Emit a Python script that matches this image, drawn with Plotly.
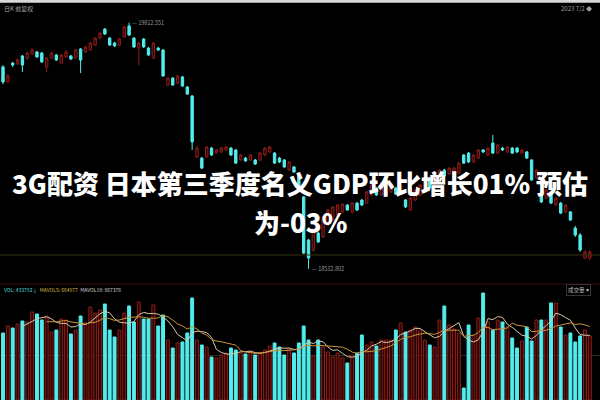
import plotly.graph_objects as go
import pandas as pd

# ---- data ----
opens = [19582,19504,19602,19597,19639,19628,19649,19660,19654,19582,
         19628,19644,19602,19634,19639,19628,19675,19660,19670,19696,
         19732,19779,19732,19706,19696,19738,19795,19732,19680,19727,
         19680,19628,19680,19670,19488,19524,19498,19530,19478,19431,
         19114,19108,19114,19160,19134,19140,19150,19160,19150,19098,
         19108,19098,19098,19098,19124,19140,19134,19108,19098,19046,
         19062,19020,18906,18682,18630,18718,18698,18760,18786,18812,
         18828,18864,18828,18874,18890,18874,18916,18952,18916,18916,
         18932,18952,18926,18890,18838,18890,18916,18942,19004,18968,
         18994,19046,19025,19020,19030,19124,19134,19088,19108,19150,
         19124,19186,19134,19160,19140,19160,19160,19134,19140,19098,
         19004,18916,18900,18932,18864,18874,18828,18828,18744,18708,
         18588,18588]
highs = [19592,19545,19608,19628,19644,19660,19680,19665,19660,19634,
         19660,19649,19649,19670,19644,19675,19680,19691,19712,19738,
         19764,19784,19738,19712,19732,19795,19812.551,19738,19712,19732,
         19686,19712,19686,19675,19530,19530,19540,19535,19483,19436,
         19171,19114,19171,19166,19155,19166,19171,19166,19155,19129,
         19114,19129,19103,19140,19166,19171,19140,19114,19103,19093,
         19067,19025,18911,18687,18744,18724,18807,18843,18859,18869,
         18874,18869,18880,18880,18895,18937,18973,18958,18984,18973,
         18968,18958,18973,18895,18906,18947,18973,18999,19010,19025,
         19051,19051,19062,19062,19088,19129,19140,19129,19155,19155,
         19166,19228,19181,19166,19171,19166,19166,19155,19145,19103,
         19051,18921,18947,18937,18906,18880,18869,18833,18755,18718,
         18630,18630]
lows = [19493,19498,19582,19592,19556,19618,19644,19628,19602,19556,
        19623,19613,19597,19628,19618,19623,19550,19654,19665,19691,
        19727,19748,19691,19686,19691,19732,19743,19680,19592,19680,
        19639,19623,19665,19530,19483,19483,19493,19478,19436,19150,
        19108,19051,19108,19119,19129,19134,19145,19119,19077,19093,
        19088,19093,19072,19093,19119,19134,19077,19082,19056,19041,
        19030,18937,18609,18532.802,18620,18666,18692,18755,18781,18807,
        18822,18833,18822,18833,18859,18869,18911,18911,18911,18911,
        18926,18916,18921,18848,18833,18885,18911,18937,18947,18963,
        18989,19010,19020,19015,19025,19077,19082,19082,19103,19134,
        19119,19129,19129,19145,19134,19129,19134,19129,19103,18989,
        18999,18874,18895,18869,18859,18817,18822,18781,18698,18620,
        18583,18578]
closes = [19504,19535,19592,19618,19592,19654,19670,19634,19608,19628,
          19654,19618,19644,19660,19623,19670,19618,19686,19706,19732,
          19758,19753,19696,19691,19727,19790,19748,19686,19706,19686,
          19644,19706,19670,19535,19524,19488,19535,19483,19441,19192,
          19160,19056,19166,19124,19150,19160,19166,19124,19082,19124,
          19093,19124,19077,19134,19160,19166,19082,19088,19062,19088,
          19036,18942,18614,18588,18734,18672,18802,18838,18854,18864,
          18869,18838,18874,18838,18864,18932,18968,18916,18978,18968,
          18963,18921,18968,18854,18900,18942,18968,18994,18952,19020,
          19046,19015,19056,19056,19082,19082,19088,19124,19150,19140,
          19160,19134,19176,19150,19166,19134,19140,19150,19108,18994,
          19046,18880,18942,18874,18900,18822,18864,18786,18708,18630,
          18620,18620]
# volume, in 10k shares
volume = [67,74,72,76,79,78,88,86,80,84,68,70,81,80,66,70,84,77,93,87,
          90,96,70,63,70,87,94,78,98,81,81,95,74,85,60,52,57,58,67,102,
          60,55,53,43,42,45,47,52,50,47,46,49,45,47,50,54,57,53,45,51,
          47,57,74,60,44,60,53,48,43,47,42,37,45,47,65,55,58,54,60,60,
          60,70,77,68,70,73,70,60,55,53,80,94,75,71,67,12,75,65,82,107,
          78,70,80,78,73,62,52,59,73,59,80,80,80,97,97,73,65,67,58,64,
          70,64]
max_label = "19812.551"
min_label = "18532.802"
title_line1 = "3G配资 日本第三季度名义GDP环比增长01% 预估"
title_line2 = "为-03%"

# ---- build ----
idx = list(range(len(opens)))
df = pd.DataFrame({"o": opens, "h": highs, "l": lows, "c": closes, "v": volume}, index=idx)
ma5 = df["v"].rolling(5).mean()
ma10 = df["v"].rolling(10).mean()
up = df["c"] >= df["o"]

CYAN = "#52ecec"
RED_LINE = "#8e1c18"
RED_FILL = "#2c0505"

fig = go.Figure()
fig.add_trace(go.Candlestick(
    x=idx, open=opens, high=highs, low=lows, close=closes,
    xaxis="x", yaxis="y", whiskerwidth=0, hoverinfo="skip",
    increasing=dict(line=dict(color=RED_LINE, width=1), fillcolor=RED_FILL),
    decreasing=dict(line=dict(color=CYAN, width=1), fillcolor=CYAN),
    showlegend=False))
fig.add_trace(go.Bar(
    x=idx, y=volume, xaxis="x2", yaxis="y2", width=0.6,
    marker=dict(color=[RED_FILL if u else CYAN for u in up],
                line=dict(color=[RED_LINE if u else CYAN for u in up], width=1)),
    showlegend=False, hoverinfo="skip"))
fig.add_trace(go.Scatter(x=idx, y=ma5, xaxis="x2", yaxis="y2", mode="lines",
                         line=dict(color="#d9c8a8", width=1), showlegend=False, hoverinfo="skip"))
fig.add_trace(go.Scatter(x=idx, y=ma10, xaxis="x2", yaxis="y2", mode="lines",
                         line=dict(color="#c8963c", width=1), showlegend=False, hoverinfo="skip"))

xr = [-0.62, 123.1]
fig.update_layout(
    width=600, height=400, margin=dict(l=0, r=0, t=0, b=0),
    paper_bgcolor="black", plot_bgcolor="black",
    xaxis=dict(domain=[0, 1], range=xr, visible=False, rangeslider=dict(visible=False), anchor="y"),
    xaxis2=dict(domain=[0, 1], range=xr, visible=False, anchor="y2"),
    yaxis=dict(domain=[0.3245, 0.97], range=[18525, 19867.6], visible=False),
    yaxis2=dict(domain=[0, 0.27], range=[0, 108], showticklabels=False, zeroline=False,
                showgrid=True, gridcolor="rgba(200,170,120,0.25)", gridwidth=1, tickvals=[45]),
    bargap=0.3,
    font=dict(family="Noto Sans CJK SC"),
    shapes=[
        dict(type="rect", xref="paper", yref="paper", x0=0, x1=1, y0=0.993, y1=1,
             fillcolor="#d8d8d8", line=dict(width=0), layer="above"),
        dict(type="line", xref="paper", yref="paper", x0=0, x1=1, y0=1-255/400, y1=1-255/400,
             line=dict(color="#3a3210", width=1)),
        dict(type="line", xref="paper", yref="paper", x0=0, x1=1, y0=1-284/400, y1=1-284/400,
             line=dict(color="#3c0c0c", width=1)),
    ],
    annotations=[
        dict(x=26, y=19812.551, xref="x", yref="y", text="— " + max_label, showarrow=False,
             xanchor="left", xshift=1, font=dict(size=5.5, color="#9a9a9a")),
        dict(x=63, y=18532.802, xref="x", yref="y", text="— " + min_label, showarrow=False,
             xanchor="left", xshift=1, font=dict(size=5.5, color="#9a9a9a")),
        dict(x=0.003, y=1-8/400, xref="paper", yref="paper", text="日K 前复权", showarrow=False,
             xanchor="left", yanchor="middle", font=dict(size=6, color="#a0a0a0")),
        dict(x=0.99, y=1-8/400, xref="paper", yref="paper", text="2023 7/2 ◆", showarrow=False,
             xanchor="right", yanchor="middle", font=dict(size=6, color="#a0a0a0")),
        dict(x=0.003, y=1-289/400, xref="paper", yref="paper", showarrow=False,
             xanchor="left", yanchor="middle", font=dict(size=5),
             text="<span style='color:#4fdede'>VOL: 433792↓</span>  "
                  "<span style='color:#d8b84a'>MAVOL5: 664977</span>  "
                  "<span style='color:#d0d0d0'>MAVOL10: 867376</span>"),
        dict(x=0.985, y=1-290/400, xref="paper", yref="paper", text="成交量 ▾", showarrow=False,
             xanchor="right", yanchor="middle", font=dict(size=5.5, color="#bbbbbb"),
             bordercolor="#333333", borderwidth=1, borderpad=1),
        dict(x=0.5, y=1-182/400, xref="paper", yref="paper", text=title_line1, showarrow=False,
             xanchor="center", yanchor="middle",
             font=dict(size=26, color="white", family="Noto Sans CJK SC", weight=900)),
        dict(x=0.5, y=1-221/400, xref="paper", yref="paper", text=title_line2, showarrow=False,
             xanchor="center", yanchor="middle",
             font=dict(size=26, color="white", family="Noto Sans CJK SC", weight=900)),
    ],
)
fig.write_html("out.html", config={"displayModeBar": False, "staticPlot": True})

# remove the browser's default page margin so the 600x400 figure fills the window
with open("out.html", encoding="utf-8") as f:
    html = f.read()
html = html.replace("<body>", "<body style=\"margin:0;padding:0;overflow:hidden;background:black\">", 1)
with open("out.html", "w", encoding="utf-8") as f:
    f.write(html)
